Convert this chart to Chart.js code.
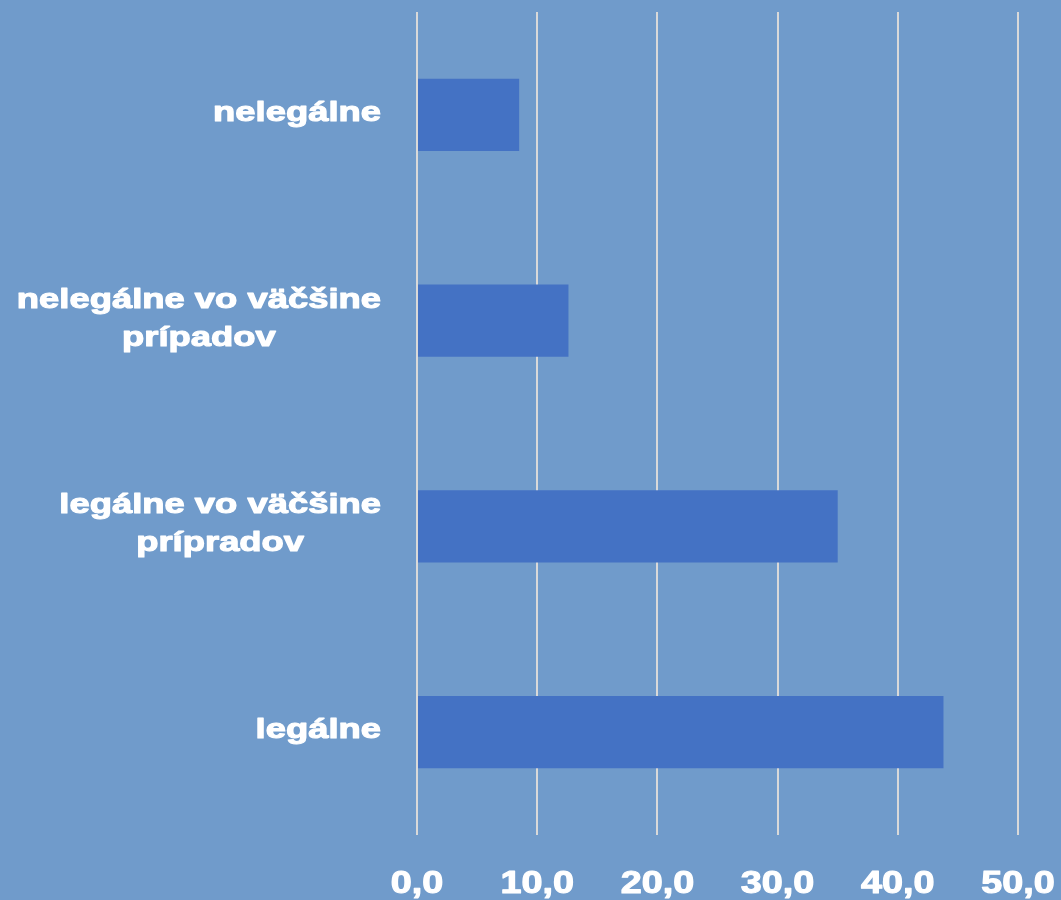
<!DOCTYPE html>
<html>
<head>
<meta charset="utf-8">
<script src="https://cdn.jsdelivr.net/npm/chart.js@4/dist/chart.umd.min.js"></script>
<style>
  html, body { margin: 0; padding: 0; background: #709bcb; }
  #wrap { width: 1061px; height: 900px; }
</style>
</head>
<body>
<div id="wrap"><canvas id="c" width="1061" height="900"></canvas></div>
<script>
const categories = ['nelegálne', ['nelegálne vo väčšine', 'prípadov'], ['legálne vo väčšine', 'prípradov'], 'legálne'];
const values = [8.5, 12.6, 35.0, 43.8];
const xTicks = [0, 10, 20, 30, 40, 50];

const BG = '#709bcb';
const BAR = '#4472c4';
const GRID = '#d9d9d9';
const FONT = '"Liberation Sans", Arial, sans-serif';
const fmt = v => v.toFixed(1).replace('.', ',');

const bgPlugin = {
  id: 'bg',
  beforeDraw(chart) {
    const ctx = chart.ctx;
    ctx.save();
    ctx.fillStyle = BG;
    ctx.fillRect(0, 0, chart.width, chart.height);
    ctx.restore();
  }
};

function drawStretched(ctx, text, cx, y, sx) {
  ctx.save();
  ctx.translate(cx, y);
  ctx.scale(sx, 1);
  ctx.fillText(text, 0, 0);
  ctx.strokeText(text, 0, 0);
  ctx.restore();
}

const labelPlugin = {
  id: 'labels',
  afterDraw(chart) {
    const ctx = chart.ctx;
    const ys = chart.scales.y;
    const xs = chart.scales.x;
    ctx.save();
    ctx.fillStyle = '#ffffff';
    ctx.strokeStyle = '#ffffff';
    ctx.lineWidth = 1.1;
    ctx.lineJoin = 'round';
    ctx.textAlign = 'center';
    ctx.textBaseline = 'alphabetic';

    // category labels (left of the plot)
    const size = 28, sx = 1.3, lineGap = 38, right = 381;
    ctx.font = 'bold ' + size + 'px ' + FONT;
    categories.forEach((lab, i) => {
      const lines = Array.isArray(lab) ? lab : [lab];
      const maxW = Math.max(...lines.map(l => ctx.measureText(l).width * sx));
      const cx = right - maxW / 2;
      const cy = ys.getPixelForValue(i);
      lines.forEach((l, k) => {
        const y = cy + (k - (lines.length - 1) / 2) * lineGap + 6;
        drawStretched(ctx, l, cx, y, sx);
      });
    });

    // value axis tick labels
    ctx.font = 'bold 32px ' + FONT;
    xTicks.forEach(v => {
      drawStretched(ctx, fmt(v), xs.getPixelForValue(v), 893, 1.18);
    });
    ctx.restore();
  }
};

new Chart(document.getElementById('c'), {
  type: 'bar',
  data: {
    labels: categories,
    datasets: [{
      data: values,
      backgroundColor: BAR,
      borderWidth: 0,
      barPercentage: 0.35,
      categoryPercentage: 1.0
    }]
  },
  options: {
    indexAxis: 'y',
    responsive: false,
    animation: false,
    layout: { padding: { top: 12, right: 43, left: 0, bottom: 0 } },
    plugins: { legend: { display: false }, tooltip: { enabled: false } },
    scales: {
      y: {
        type: 'category',
        grid: { display: false },
        border: { display: false },
        ticks: { display: false },
        afterFit(scale) { scale.width = 417; scale.paddingTop = 0; scale.paddingBottom = 0; }
      },
      x: {
        min: xTicks[0],
        max: xTicks[xTicks.length - 1],
        afterBuildTicks(scale) { scale.ticks = xTicks.map(v => ({ value: v })); },
        grid: { color: GRID, lineWidth: 2, drawTicks: false },
        border: { display: false },
        ticks: { display: false },
        afterFit(scale) { scale.height = 65; scale.paddingLeft = 0; scale.paddingRight = 0; }
      }
    }
  },
  plugins: [bgPlugin, labelPlugin]
});
</script>
</body>
</html>
